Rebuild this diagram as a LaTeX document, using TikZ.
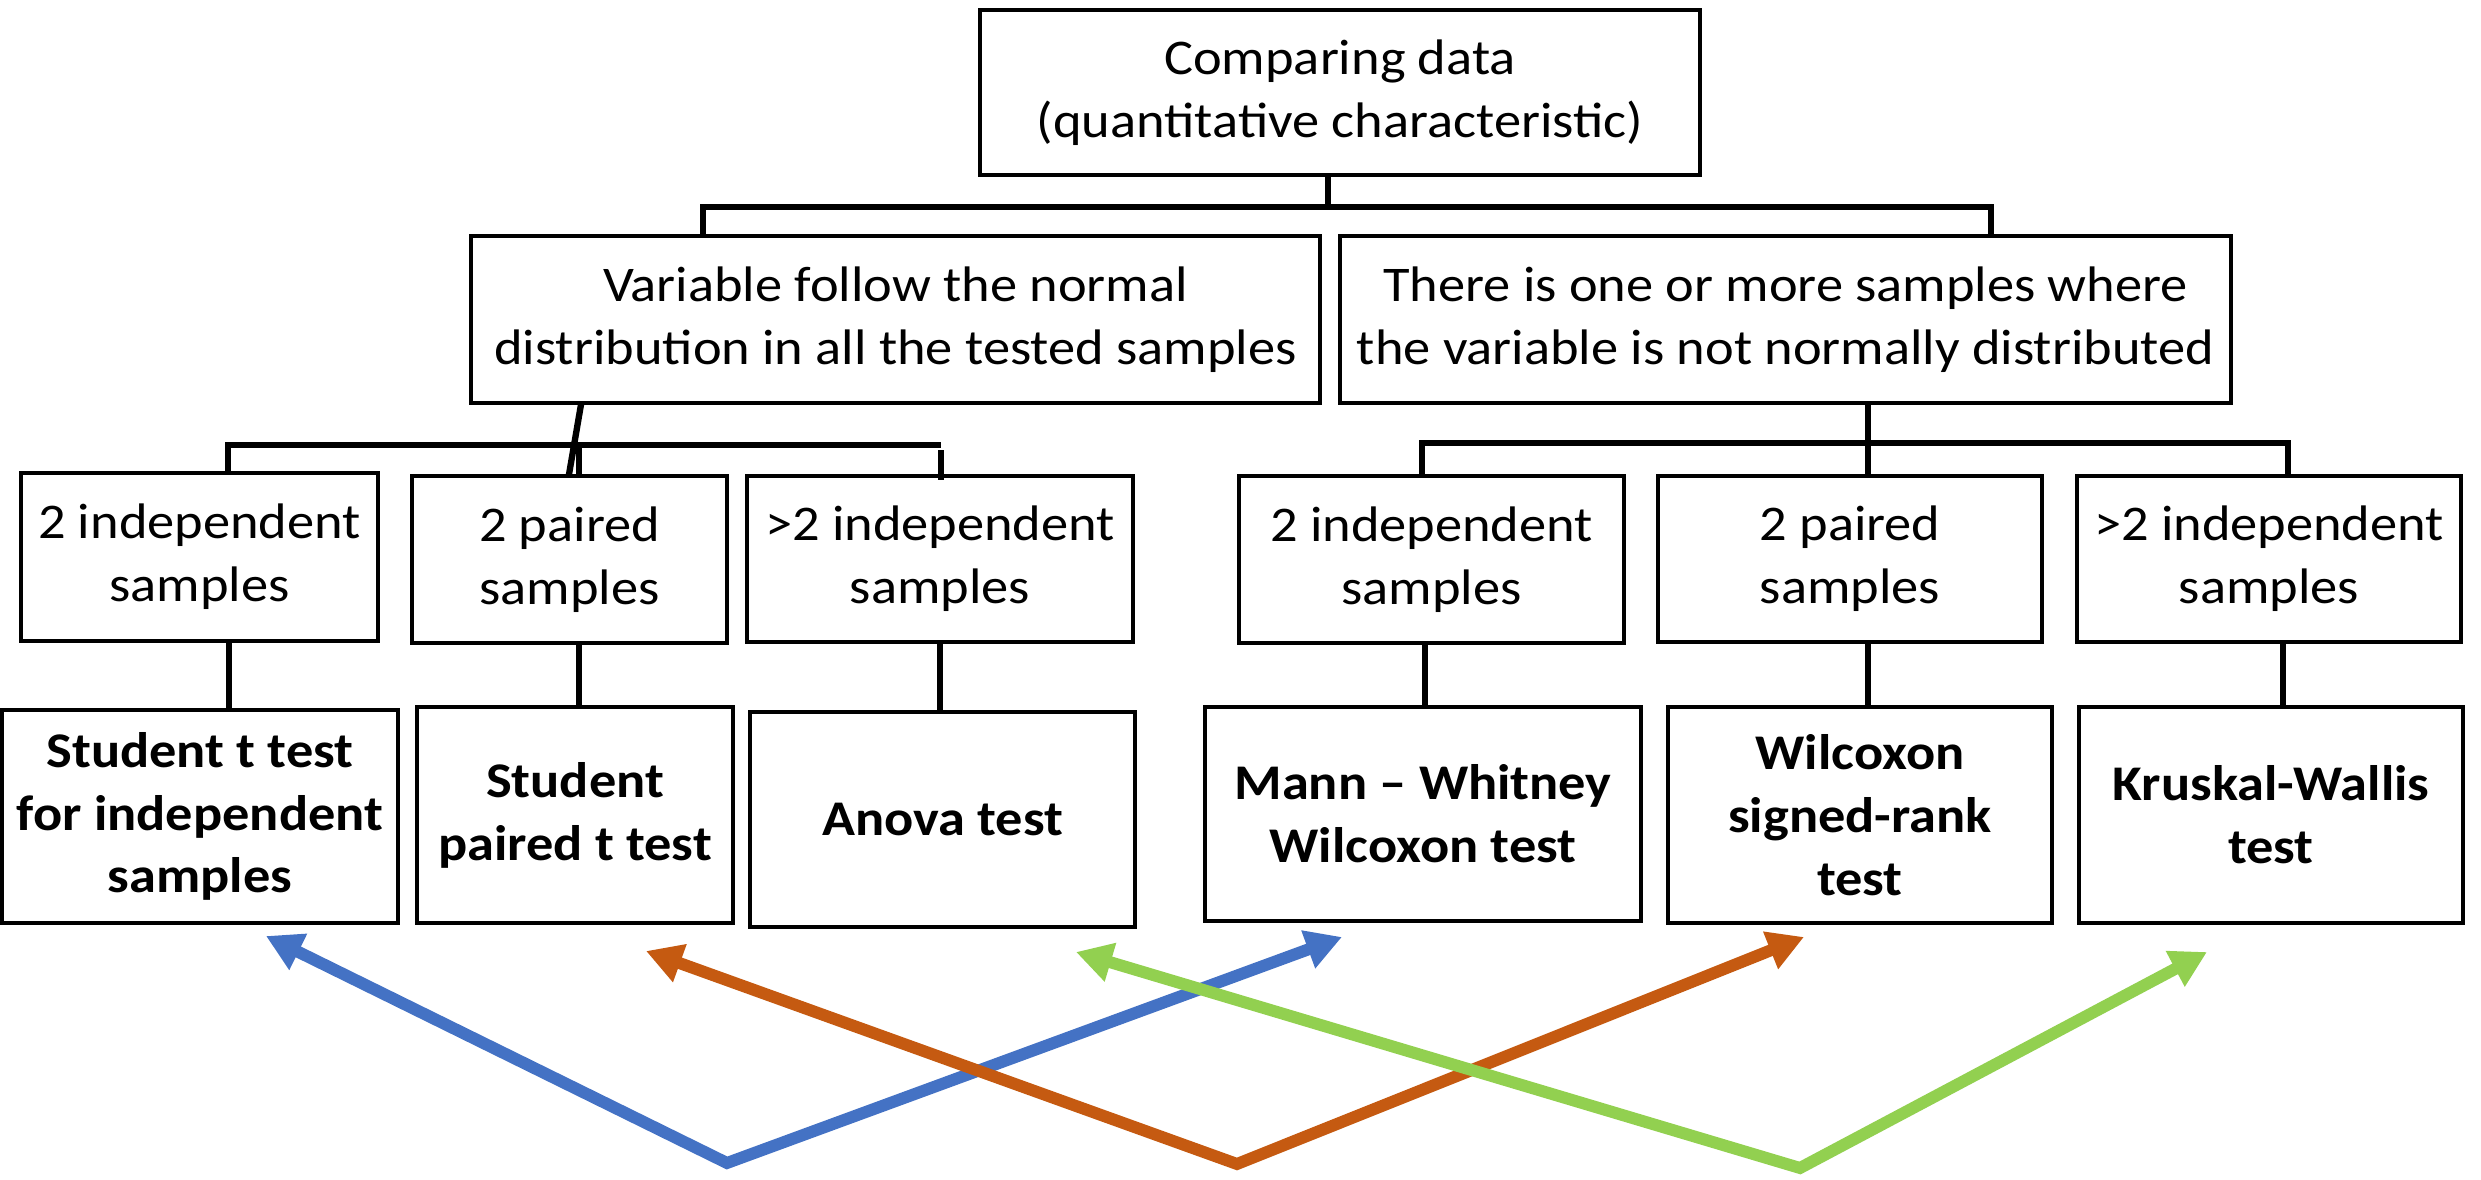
\documentclass[tikz,border=0pt]{standalone}
\usepackage{fontspec}
\setmainfont[FakeStretch=1.09]{Carlito}
\usetikzlibrary{arrows.meta,calc}
\definecolor{cblue}{HTML}{4472C4}
\definecolor{corange}{HTML}{C55A11}
\definecolor{cgreen}{HTML}{92D050}
\begin{document}
\begin{tikzpicture}[
  box/.style={draw, line width=0.9pt, align=center, inner sep=0pt, font=\fontsize{14.2}{17.9}\selectfont},
  bbox/.style={box, font=\fontsize{14.2}{17.9}\selectfont\bfseries},
  conn/.style={line width=1.8pt},
  arr/.style={line width=3.4pt, {Triangle[length=0.36cm,width=0.38cm]}-{Triangle[length=0.36cm,width=0.38cm]}},
]
\useasboundingbox (0,0) rectangle (24.81,11.8);
% top
\node[box, minimum width=7.2cm, minimum height=1.65cm] (top) at (13.40,10.875) {Comparing data\\(quantitative characteristic)};
% middle
\node[box, minimum width=8.49cm, minimum height=1.67cm] (L) at (8.955,8.605) {Variable follow the normal\\distribution in all the tested samples};
\node[box, minimum width=8.91cm, minimum height=1.67cm] (R) at (17.855,8.605) {There is one or more samples where\\the variable is not normally distributed};
% sample boxes
\node[box, minimum width=3.57cm, minimum height=1.68cm] (A1) at (1.995,6.23) {2 independent\\samples};
\node[box, minimum width=3.15cm, minimum height=1.67cm] (A2) at (5.695,6.205) {2 paired\\samples};
\node[box, minimum width=3.86cm, minimum height=1.66cm] (A3) at (9.40,6.21) {>2 independent\\samples};
\node[box, minimum width=3.85cm, minimum height=1.67cm] (C1) at (14.315,6.205) {2 independent\\samples};
\node[box, minimum width=3.84cm, minimum height=1.66cm] (C2) at (18.50,6.21) {2 paired\\samples};
\node[box, minimum width=3.84cm, minimum height=1.66cm] (C3) at (22.69,6.21) {>2 independent\\samples};
% test boxes
\node[bbox, minimum width=3.96cm, minimum height=2.13cm] (B1) at (2.00,3.635) {Student t test\\for independent\\samples};
\node[bbox, minimum width=3.16cm, minimum height=2.16cm] (B2) at (5.75,3.65) {Student\\paired t test};
\node[bbox, minimum width=3.85cm, minimum height=2.15cm] (B3) at (9.425,3.605) {Anova test};
\node[bbox, minimum width=4.36cm, minimum height=2.14cm] (D1) at (14.23,3.66) {Mann -- Whitney\\Wilcoxon test};
\node[bbox, minimum width=3.84cm, minimum height=2.16cm] (D2) at (18.60,3.65) {Wilcoxon\\signed-rank\\test};
\node[bbox, minimum width=3.84cm, minimum height=2.16cm] (D3) at (22.71,3.65) {Kruskal-Wallis\\test};
% junction coordinates
\coordinate (jt) at (13.28,9.73);
\coordinate (xl) at (7.03,0);
\coordinate (xr) at (19.91,0);
\coordinate (jl) at (5.79,7.35);
\coordinate (xa1) at (2.28,0);
\coordinate (xa3) at (9.41,0);
\coordinate (jr) at (18.68,7.37);
\coordinate (xc1) at (14.22,0);
\coordinate (xc3) at (22.88,0);
% top tree
\draw[conn] (top.south -| jt) -- (jt);
\draw[conn] (L.north -| xl) |- (jt) -| (R.north -| xr);
% left tree
\draw[conn] (A1.north -| xa1) |- (jl) -- (jl -| xa3);
\draw[conn] (L.south -| 5.81,0) -- ($(A2.north -| 5.69,0)$);
\draw[conn] (jl) -- (A2.north -| jl);
\draw[conn] ($(A3.north -| xa3)+(0,0.24)$) -- ($(A3.north -| xa3)+(0,-0.06)$);
% right tree
\draw[conn] (R.south -| jr) -- (C2.north -| jr);
\draw[conn] (C1.north -| xc1) |- (jr) -| (C3.north -| xc3);
% lower connectors
\coordinate (xb1) at (2.29,0);
\coordinate (xb2) at (5.79,0);
\coordinate (xb3) at (9.40,0);
\coordinate (xd1) at (14.25,0);
\coordinate (xd2) at (18.68,0);
\coordinate (xd3) at (22.83,0);
\draw[conn] (A1.south -| xb1) -- (B1.north -| xb1);
\draw[conn] (A2.south -| xb2) -- (B2.north -| xb2);
\draw[conn] (A3.south -| xb3) -- (B3.north -| xb3);
\draw[conn] (C1.south -| xd1) -- (D1.north -| xd1);
\draw[conn] (C2.south -| xd2) -- (D2.north -| xd2);
\draw[conn] (C3.south -| xd3) -- (D3.north -| xd3);
% arrows
\coordinate (bL) at (2.66,2.44);
\coordinate (bV) at (7.27,0.17);
\coordinate (bR) at (13.42,2.43);
\coordinate (oL) at (6.46,2.29);
\coordinate (oV) at (12.37,0.16);
\coordinate (oR) at (18.04,2.43);
\coordinate (gL) at (10.76,2.28);
\coordinate (gV) at (18.00,0.12);
\coordinate (gR) at (22.07,2.28);
\draw[arr, cblue] (bL) -- (bV) -- (bR);
\draw[arr, corange] (oL) -- (oV) -- (oR);
\draw[arr, cgreen] (gL) -- (gV) -- (gR);
\end{tikzpicture}
\end{document}
